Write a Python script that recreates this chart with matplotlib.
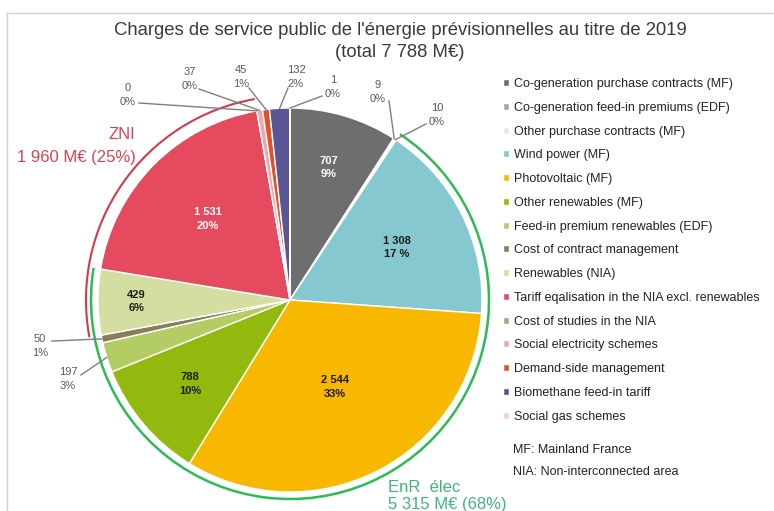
import numpy as np
import matplotlib
matplotlib.use('Agg')
import matplotlib.pyplot as plt
from matplotlib.patches import Arc

# Data
categories = ['Co-generation purchase contracts (MF)', 'Co-generation feed-in premiums (EDF)',
              'Other purchase contracts (MF)', 'Wind power (MF)', 'Photovoltaic (MF)',
              'Other renewables (MF)', 'Feed-in premium renewables (EDF)', 'Cost of contract management',
              'Renewables (NIA)', 'Tariff eqalisation in the NIA excl. renewables', 'Cost of studies in the NIA',
              'Social electricity schemes', 'Demand-side management', 'Biomethane feed-in tariff',
              'Social gas schemes']
values = [707, 9, 10, 1308, 2544, 788, 197, 50, 429, 1531, 0, 37, 45, 132, 1]
value_labels = ['707', '9', '10', '1 308', '2 544', '788', '197', '50', '429', '1 531', '0', '37', '45', '132', '1']
pct_labels = ['9%', '0%', '0%', '17 %', '33%', '10%', '3%', '1%', '6%', '20%', '0%', '0%', '1%', '2%', '0%']
colors = ['#6e6e6e', '#a8a8a8', '#e8e8de', '#86c8cf', '#f9b800', '#93b90f', '#b3cc63', '#8a7d5c',
          '#d4dea0', '#e54a5e', '#a9a77f', '#f1a7a9', '#e2522a', '#5a5694', '#f6cdd1']

W, H = 774, 511
plt.rcParams['font.family'] = ['Liberation Sans', 'DejaVu Sans']
cond = dict(fontstretch='condensed')

fig = plt.figure(figsize=(W / 100, H / 100), dpi=100)
ax = fig.add_axes([0, 0, 1, 1])

def py(y):
    # pixel row (from top) -> data y
    return H - y

cx, cy, R = 290, py(300), 192
wedges, _ = ax.pie(values, colors=colors, startangle=90, counterclock=False,
                   center=(cx, cy), radius=R,
                   wedgeprops=dict(edgecolor='white', linewidth=1.0))
ax.set_xlim(0, W)
ax.set_ylim(0, H)
ax.set_aspect('equal')
ax.axis('off')

# labels inside the big slices: index -> (radius fraction, text colour)
inside = {0: (0.72, 'white'), 3: (0.62, '#1a1a1a'), 4: (0.51, '#1a1a1a'),
          5: (0.68, '#1a1a1a'), 8: (0.80, '#1a1a1a'), 9: (0.60, 'white')}
for i, (f, c) in inside.items():
    w = wedges[i]
    a = np.deg2rad((w.theta1 + w.theta2) / 2)
    ax.text(cx + f * R * np.cos(a), cy + f * R * np.sin(a),
            value_labels[i] + '\n' + pct_labels[i], ha='center', va='center',
            fontsize=8, fontweight='bold', color=c, linespacing=1.45, **cond)

# labels outside the small slices: index -> label centre (px), leader start (px)
outside = {10: ((128, 95), (139, 103)), 11: ((190, 79), (199, 89)), 12: ((241, 77), (249, 88)),
           13: ((296, 77), (288, 88)), 14: ((333, 87), (322, 96)), 1: ((378, 92), (389, 101)),
           2: ((437, 115), (426, 124)), 7: ((40, 346), (52, 341)), 6: ((68, 379), (81, 375))}
for i, ((lx, ly), (sx, sy)) in outside.items():
    w = wedges[i]
    a = np.deg2rad((w.theta1 + w.theta2) / 2)
    ex, ey = cx + R * np.cos(a), cy + R * np.sin(a)
    ax.text(lx, py(ly), value_labels[i] + '\n' + pct_labels[i], ha='center', va='center',
            fontsize=8, color='#595959', linespacing=1.4, **cond)
    ax.plot([sx, ex], [py(sy), ey], color='#7f7f7f', lw=1)

# group arcs
bounds = np.cumsum([0] + values) / sum(values) * 360
def ang(k):
    return 90 - bounds[k]
ax.add_patch(Arc((cx, cy), 2 * 199, 2 * 199, theta1=ang(9), theta2=ang(3),
                 color='#2dbb55', lw=1.8))
ax.add_patch(Arc((cx, cy), 2 * 204, 2 * 204, theta1=ang(10), theta2=ang(8),
                 color='#d63a4a', lw=1.5))

ax.text(135, py(134), 'ZNI', ha='right', va='center', fontsize=12, color='#d9434f', **cond)
ax.text(136, py(157), '1 960 M€ (25%)', ha='right', va='center', fontsize=12, color='#d9434f', **cond)
ax.text(388, py(488), 'EnR  élec', ha='left', va='center', fontsize=12, color='#3cb878', **cond)
ax.text(388, py(505), '5 315 M€ (68%)', ha='left', va='center', fontsize=12, color='#3cb878', **cond)

# title
ax.text(400, py(30), "Charges de service public de l'énergie prévisionnelles au titre de 2019",
        ha='center', va='center', fontsize=13.3, color='#3a3a3a', **cond)
ax.text(400, py(52), '(total 7 788 M€)', ha='center', va='center', fontsize=13.3, color='#3a3a3a', **cond)

# legend
ax.legend(wedges, categories, loc='upper left', bbox_to_anchor=(503 / W, 1 - 78 / H),
          frameon=False, fontsize=9, handlelength=0.5, handleheight=0.5, handletextpad=0.35,
          labelspacing=0.94, borderaxespad=0, borderpad=0, labelcolor='#222222')
ax.text(513, py(450), 'MF: Mainland France', ha='left', va='center', fontsize=9, color='#222222')
ax.text(513, py(472), 'NIA: Non-interconnected area', ha='left', va='center', fontsize=9, color='#222222')

# picture frame
ax.plot([7, 7], [0, py(13)], color='#d0d0d0', lw=1)
ax.plot([7, W], [py(13), py(13)], color='#d0d0d0', lw=1)

fig.savefig('out.png', dpi=100)
